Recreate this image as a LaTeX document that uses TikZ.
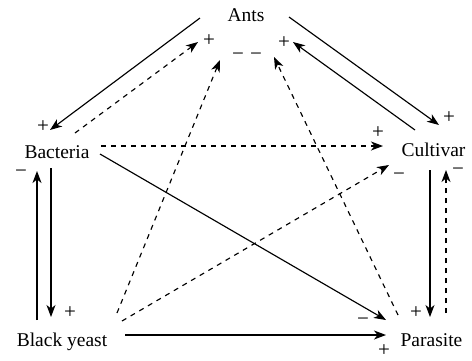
\documentclass[tikz,border=0pt]{standalone}
\usepackage{fontspec}
\setmainfont{Liberation Serif}
\usetikzlibrary{arrows.meta}
\begin{document}
\begin{tikzpicture}[x=1pt,y=-1pt,
  lbl/.style={font=\fontsize{19.5}{20}\selectfont, anchor=base, inner sep=0},
  sgn/.style={font=\fontsize{21}{21}\selectfont, inner sep=0},
  sol/.style={line width=1.15pt, -{Stealth[length=12pt,width=9pt,inset=3.5pt]}},
  dsh/.style={sol, dash pattern=on 5pt off 5pt}]
\useasboundingbox (0,0) rectangle (472,360);
% main nodes
\node[lbl] (ants) at (246,21) {Ants};
\node[lbl] (bact) at (57,158) {Bacteria};
\node[lbl] (cult) at (433.5,156.5) {Cultivar};
\node[lbl] (yeast) at (62,346.5) {Black yeast};
\node[lbl] (para) at (431.5,346.5) {Parasite};
% connector end points
\coordinate (e1a) at (200,18);   \coordinate (e1b) at (50,130);
\coordinate (e2a) at (75,133);   \coordinate (e2b) at (198,42);
\coordinate (e3a) at (289,17);   \coordinate (e3b) at (439,125);
\coordinate (e4a) at (415,130);  \coordinate (e4b) at (293,42);
\coordinate (e5a) at (101,146);  \coordinate (e5b) at (383,146);
\coordinate (e6a) at (122,321);  \coordinate (e6b) at (389,165);
\coordinate (e7a) at (430,170);  \coordinate (e7b) at (430,317);
\coordinate (e8a) at (446,313);  \coordinate (e8b) at (446,170);
\coordinate (e9a) at (100,154);  \coordinate (e9b) at (386,320);
\coordinate (e10a) at (125,335); \coordinate (e10b) at (386,335);
\coordinate (e11a) at (37,320);  \coordinate (e11b) at (37,171);
\coordinate (e12a) at (51,168);  \coordinate (e12b) at (51,317);
\coordinate (e13a) at (117,313); \coordinate (e13b) at (220,60);
\coordinate (e14a) at (398,315); \coordinate (e14b) at (274,57);
% connectors
\draw[sol] (e1a) -- (e1b);
\draw[dsh] (e2a) -- (e2b);
\draw[sol] (e3a) -- (e3b);
\draw[sol] (e4a) -- (e4b);
\draw[dsh] (e5a) -- (e5b);
\draw[dsh] (e6a) -- (e6b);
\draw[sol] (e7a) -- (e7b);
\draw[dsh] (e8a) -- (e8b);
\draw[sol] (e9a) -- (e9b);
\draw[sol] (e10a) -- (e10b);
\draw[sol] (e11a) -- (e11b);
\draw[sol] (e12a) -- (e12b);
\draw[dsh] (e13a) -- (e13b);
\draw[dsh] (e14a) -- (e14b);
% signs
\node[sgn] (s1) at (43,127) {+};
\node[sgn] (s2) at (209,41) {+};
\node[sgn] (s3) at (449,118) {+};
\node[sgn] (s4) at (284,43) {+};
\node[sgn] (s5) at (378,133) {+};
\node[sgn] (s6) at (399,177) {−};
\node[sgn] (s7) at (416,313) {+};
\node[sgn] (s8) at (458,172) {−};
\node[sgn] (s9) at (363,322) {−};
\node[sgn] (s10) at (384,351) {+};
\node[sgn] (s11) at (21,174) {−};
\node[sgn] (s12) at (70,313) {+};
\node[sgn] (s13) at (238,57) {−};
\node[sgn] (s14) at (256,57) {−};
\end{tikzpicture}
\end{document}
